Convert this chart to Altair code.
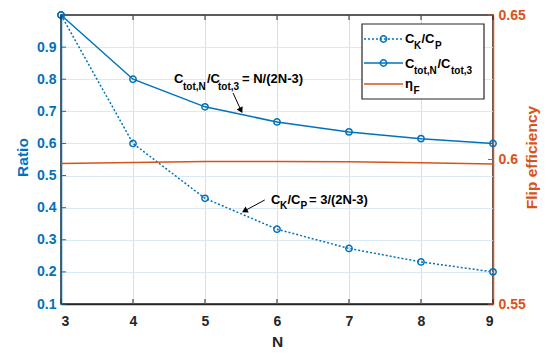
import altair as alt
import pandas as pd

# ---- data ----
N = [3, 4, 5, 6, 7, 8, 9]
ck_cp = [1.0, 0.6, 0.429, 0.333, 0.273, 0.231, 0.2]
ctot = [1.0, 0.8, 0.714, 0.667, 0.636, 0.615, 0.6]
eta_f = [0.5986, 0.5990, 0.5993, 0.5993, 0.5992, 0.5989, 0.5984]
left_ticks = [0.1, 0.2, 0.3, 0.4, 0.5, 0.6, 0.7, 0.8, 0.9]
left_all = [0.1, 0.2, 0.3, 0.4, 0.5, 0.6, 0.7, 0.8, 0.9, 1.0]
right_ticks = [0.55, 0.6, 0.65]
# arrows: start (x1,y1) -> tip (x2,y2), in data units
arrow_ct = {"x1": [5.39], "y1": [0.757], "x2": [5.50], "y2": [0.703]}
arrow_ck = {"x1": [5.83], "y1": [0.424], "x2": [5.55], "y2": [0.390]}

BLUE = "#0072BD"
ORANGE = "#D95319"
DARK = "#262626"
FONT = "Liberation Sans"
LEFT, TOP = 61, 15          # page position of the plot area
W, H = 432, 289

df = pd.DataFrame({"N": N, "ck": ck_cp, "ct": ctot, "eta": eta_f})
one = alt.Data(values=[{"a": 1}])

xscale = alt.Scale(domain=[3, 9], nice=False, zero=False)
xaxis = alt.Axis(values=N, format="d", title="N", grid=True, gridColor="#dedede",
                 gridWidth=1, domainColor=DARK, domainWidth=1.5, labelColor=DARK,
                 tickSize=0, labelPadding=10, labelFontSize=14, labelFontWeight="bold",
                 titleFontSize=15.5, titleFontWeight="bold", titleColor=DARK,
                 titleX=W / 2, titleY=37, titleBaseline="middle", titleAlign="center")
yscale = alt.Scale(domain=[0.1, 1.0], nice=False, zero=False)
yaxis = alt.Axis(orient="left", values=left_ticks, format=".1f", title="Ratio",
                 grid=True, gridColor="#d9eaf5", gridWidth=1, domainColor=BLUE,
                 domainWidth=1.5, labelColor=BLUE, tickSize=0, labelPadding=5,
                 labelFontSize=14, labelFontWeight="bold", titleColor=BLUE,
                 titleFontSize=15.5, titleFontWeight="bold", titleAngle=270,
                 titleX=-39, titleY=157 - TOP, titleAlign="center", titleBaseline="middle")
rscale = alt.Scale(domain=[0.55, 0.65], nice=False, zero=False)
raxis = alt.Axis(orient="right", values=right_ticks, format="~g", title="Flip efficiency",
                 grid=False, domainColor=ORANGE, domainWidth=1.5, labelColor=ORANGE,
                 tickSize=0, labelPadding=5, labelFontSize=14, labelFontWeight="bold",
                 titleColor=ORANGE, titleFontSize=15.5, titleFontWeight="bold",
                 titleAngle=270, titleX=38, titleY=157 - TOP, titleAlign="center",
                 titleBaseline="middle")

X = alt.X("N:Q", scale=xscale, axis=xaxis)

base = alt.Chart(df)
ck_line = base.mark_line(color=BLUE, strokeWidth=1.5, strokeDash=[2, 2]).encode(
    x=X, y=alt.Y("ck:Q", scale=yscale, axis=yaxis))
ct_line = base.mark_line(color=BLUE, strokeWidth=1.5).encode(
    x=X, y=alt.Y("ct:Q", scale=yscale, axis=yaxis))
ck_pts = base.mark_point(shape="circle", filled=False, size=40, color=BLUE,
                         strokeWidth=1.5, opacity=1).encode(
    x=X, y=alt.Y("ck:Q", scale=yscale, axis=yaxis))
ct_pts = base.mark_point(shape="circle", filled=False, size=40, color=BLUE,
                         strokeWidth=1.5, opacity=1).encode(
    x=X, y=alt.Y("ct:Q", scale=yscale, axis=yaxis))

lt_df = pd.DataFrame({"v": left_all})
left_tk = alt.Chart(lt_df).mark_rule(color=BLUE, strokeWidth=1).encode(
    x=alt.value(0), x2=alt.value(5), y=alt.Y("v:Q", scale=yscale, axis=yaxis))
top_tk = base.mark_rule(color=DARK, strokeWidth=1).encode(
    x=X, y=alt.value(0), y2=alt.value(5))
bot_tk = base.mark_rule(color=DARK, strokeWidth=1).encode(
    x=X, y=alt.value(H), y2=alt.value(H - 5))


def arrow(d, angle):
    a = pd.DataFrame(d)
    shaft = alt.Chart(a).mark_rule(color="black", strokeWidth=1).encode(
        x=alt.X("x1:Q", scale=xscale, axis=xaxis), x2="x2:Q",
        y=alt.Y("y1:Q", scale=yscale, axis=yaxis), y2="y2:Q")
    head = alt.Chart(a).mark_point(shape="triangle-down", filled=True, color="black",
                                   size=45, angle=angle, opacity=1).encode(
        x=alt.X("x2:Q", scale=xscale, axis=xaxis),
        y=alt.Y("y2:Q", scale=yscale, axis=yaxis))
    return [shaft, head]


def seg(text, x, y, size=13):
    # x, y: page pixel position of the text's left baseline point
    return alt.Chart(one).mark_text(text=text, align="left", baseline="alphabetic",
                                    font=FONT, fontWeight="bold", fontSize=size,
                                    color="black").encode(
        x=alt.value(x - LEFT), y=alt.value(y - TOP))


def pv(x, y):
    return dict(x=alt.value(x - LEFT), y=alt.value(y - TOP))


annot = [
    seg("C", 174, 83), seg("tot,N", 183, 90, 10), seg("/C", 207, 83),
    seg("tot,3", 218, 90, 10), seg("= N/(2N-3)", 242, 83),
    seg("C", 271, 204), seg("K", 280, 209, 10), seg("/C", 287.5, 204),
    seg("P", 300.5, 209, 10), seg("= 3/(2N-3)", 309, 204),
]

# legend
leg_box = alt.Chart(one).mark_rect(fill="white", stroke=DARK, strokeWidth=1.2).encode(
    x=alt.value(362 - LEFT), x2=alt.value(484 - LEFT),
    y=alt.value(24 - TOP), y2=alt.value(99 - TOP))


def leg_line(y, color, dash=None):
    kw = dict(color=color, strokeWidth=1.5)
    if dash:
        kw["strokeDash"] = dash
    return alt.Chart(one).mark_rule(**kw).encode(
        x=alt.value(364 - LEFT), x2=alt.value(403 - LEFT), y=alt.value(y - TOP))


def leg_pt(y):
    return alt.Chart(one).mark_point(shape="circle", filled=False, size=40, color=BLUE,
                                     strokeWidth=1.5, opacity=1).encode(**pv(383.5, y))


leg = [leg_box, leg_line(39, BLUE, [2, 2]), leg_pt(39), leg_line(63, BLUE), leg_pt(63),
       leg_line(84, ORANGE),
       seg("C", 405, 43), seg("K", 414, 48.5, 10), seg("/C", 421.5, 43),
       seg("P", 435, 48.5, 10),
       seg("C", 405, 67.5), seg("tot,N", 414, 73.5, 10), seg("/C", 437.5, 67.5),
       seg("tot,3", 451, 73.5, 10),
       seg("η", 405, 88), seg("F", 413.5, 93.5, 10)]

left = alt.layer(ck_line, ct_line, ck_pts, ct_pts, left_tk, top_tk, bot_tk,
                 *arrow(arrow_ct, 332), *arrow(arrow_ck, 61), *annot, *leg)

rt_df = pd.DataFrame({"v": right_ticks})
eta_line = base.mark_line(color=ORANGE, strokeWidth=1.5).encode(
    x=X, y=alt.Y("eta:Q", scale=rscale, axis=raxis))
right_tk = alt.Chart(rt_df).mark_rule(color=ORANGE, strokeWidth=1).encode(
    x=alt.value(W), x2=alt.value(W - 5), y=alt.Y("v:Q", scale=rscale, axis=raxis))
right = alt.layer(eta_line, right_tk)

chart = alt.layer(left, right).resolve_scale(y="independent").properties(
    width=W, height=H,
    autosize=alt.AutoSizeParams(type="none"),
    padding={"left": LEFT - 8, "top": TOP - 8, "right": 48, "bottom": 50},
).configure(font=FONT).configure_view(stroke=DARK, strokeWidth=1.5).configure_axis(
    labelFont=FONT, titleFont=FONT)

chart.save("out.html", embed_options={"renderer": "svg", "actions": False})
